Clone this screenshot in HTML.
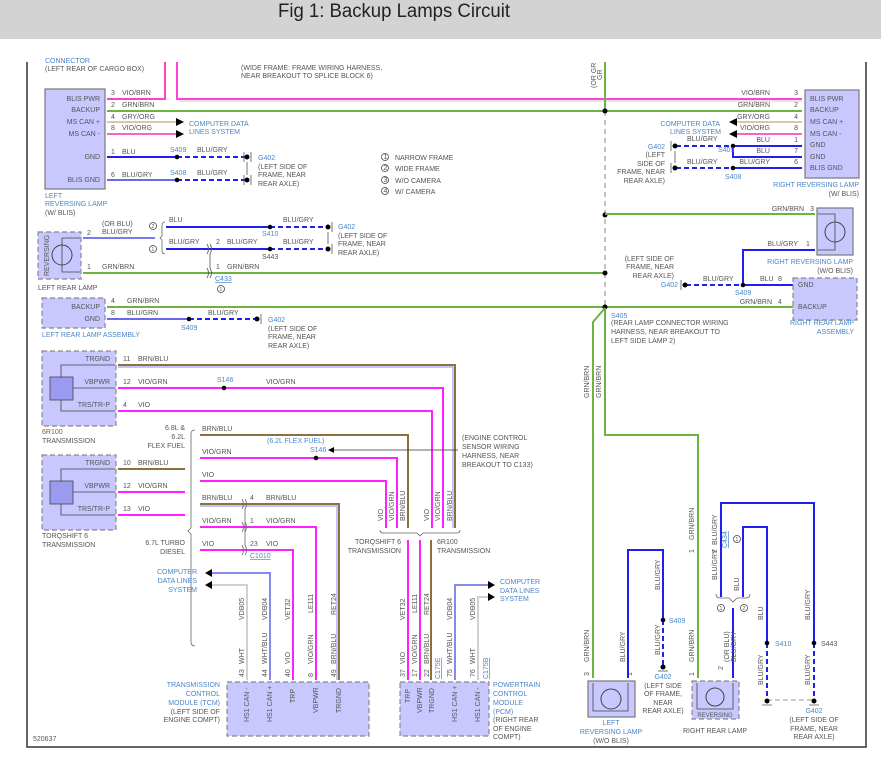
<!DOCTYPE html>
<html><head><meta charset="utf-8"><style>
html,body{margin:0;padding:0;background:#fff;width:881px;height:758px;overflow:hidden}
svg{display:block}
text{font-family:"Liberation Sans",sans-serif;font-size:7px;fill:#555}
.b{fill:#4a86c8}
.w{fill:none;stroke-width:2}
.d{stroke-dasharray:5,3}
</style></head><body>
<svg width="881" height="758" viewBox="0 0 881 758" xmlns="http://www.w3.org/2000/svg">
<rect x="0" y="0" width="881" height="39" fill="#d3d3d3"/>
<text x="278" y="17" style="font-size:19px;fill:#222" textLength="232" lengthAdjust="spacingAndGlyphs">Fig 1: Backup Lamps Circuit</text>
<path d="M27,62 V747 H866 V62" fill="none" stroke="#333" stroke-width="1.5"/>

<text x="45" y="71">(LEFT REAR OF CARGO BOX)</text>
<text x="45" y="63" class="b">CONNECTOR</text>
<text x="241" y="70">(WIDE FRAME: FRAME WIRING HARNESS,</text>
<text x="241" y="78">NEAR BREAKOUT TO SPLICE BLOCK 6)</text>
<text transform="translate(596,88) rotate(-90)">(OR GR</text>
<text transform="translate(602,80) rotate(-90)">GR</text>

<rect x="45" y="89" width="60" height="100" fill="#c8c8ff" stroke="#777" stroke-width="1.2"/>
<g text-anchor="end"><text x="100" y="101">BLIS PWR</text><text x="100" y="112">BACKUP</text><text x="100" y="124">MS CAN +</text><text x="100" y="136">MS CAN -</text><text x="100" y="159">GND</text><text x="100" y="182">BLIS GND</text></g>
<text x="45" y="198" class="b">LEFT</text><text x="45" y="206" class="b">REVERSING LAMP</text><text x="45" y="215">(W/ BLIS)</text>

<path class="w" d="M107,99 H165 V62" stroke="#ff40c0"/>
<path class="w" d="M177,62 V99 H802" stroke="#ff40e0"/>
<path d="M179,101 H802" stroke="#d8c8a8" stroke-width="1"/>
<text x="111" y="95">3</text><text x="122" y="95">VIO/BRN</text>
<path class="w" d="M107,111 H802" stroke="#6db33f"/>
<text x="111" y="107">2</text><text x="122" y="107">GRN/BRN</text>
<path d="M107,122 H176" stroke="#d8c8a8" stroke-width="2"/>
<path d="M107,134 H176" stroke="#ff60c8" stroke-width="2"/>
<path d="M176,118 L184,122 L176,126Z M176,130 L184,134 L176,138Z" fill="#000"/>
<text x="111" y="119">4</text><text x="122" y="119">GRY/ORG</text>
<text x="111" y="130">8</text><text x="122" y="130">VIO/ORG</text>
<text x="189" y="126" class="b">COMPUTER DATA</text><text x="189" y="134" class="b">LINES SYSTEM</text>
<path class="w" d="M107,157 H177" stroke="#2020ee"/>
<path class="w d" d="M177,157 H246" stroke="#2020ee"/>
<path class="w" d="M107,180 H177" stroke="#6a6ae8"/>
<path class="w d" d="M177,180 H246" stroke="#2020ee"/>
<circle cx="177" cy="157" r="2.3" fill="#000"/><circle cx="177" cy="180" r="2.3" fill="#000"/>
<g fill="#000"><circle cx="247" cy="157" r="2.5"/><circle cx="247" cy="180" r="2.5"/></g>
<path d="M251,152 V162 M244,152 V162 M251,175 V185 M244,175 V185 M247,162 V175" stroke="#555" stroke-width="0.8"/>
<text x="111" y="154">1</text><text x="122" y="154">BLU</text>
<text x="111" y="177">6</text><text x="122" y="177">BLU/GRY</text>
<text x="170" y="152" class="b">S409</text><text x="197" y="152">BLU/GRY</text>
<text x="170" y="175" class="b">S408</text><text x="197" y="175">BLU/GRY</text>
<text x="258" y="160" class="b">G402</text><text x="258" y="169">(LEFT SIDE OF</text><text x="258" y="177">FRAME, NEAR</text><text x="258" y="186">REAR AXLE)</text>

<g fill="none" stroke="#444" stroke-width="0.8"><circle cx="385" cy="157" r="3.5"/><circle cx="385" cy="168" r="3.5"/><circle cx="385" cy="180" r="3.5"/><circle cx="385" cy="191" r="3.5"/></g>
<g style="font-size:5px"><text x="383.5" y="159">1</text><text x="383.5" y="170">2</text><text x="383.5" y="182">3</text><text x="383.5" y="193">4</text></g>
<text x="395" y="160">NARROW FRAME</text><text x="395" y="171">WIDE FRAME</text><text x="395" y="183">W/O CAMERA</text><text x="395" y="194">W/ CAMERA</text>

<rect x="38" y="232" width="43" height="47" fill="#c8c8ff" stroke="#888" stroke-width="1.2" stroke-dasharray="5,3"/>
<text transform="translate(49,276) rotate(-90)">REVERSING</text>
<circle cx="62" cy="255" r="10" fill="none" stroke="#444" stroke-width="1"/>
<path d="M62,238 H80 M62,238 V272 H80" fill="none" stroke="#444" stroke-width="0.8"/>
<text x="38" y="290">LEFT REAR LAMP</text>
<path class="w" d="M83,238 H155" stroke="#7a7af0"/>
<text x="87" y="235">2</text><text x="102" y="226">(OR BLU)</text><text x="102" y="234">BLU/GRY</text>
<path d="M165,222 q-3,0 -3,4 v10 l-2,2 l2,2 v10 q0,4 3,4" fill="none" stroke="#666" stroke-width="0.8"/>
<circle cx="153" cy="226" r="3.5" fill="none" stroke="#444" stroke-width="0.8"/><text x="151.5" y="228" style="font-size:5px">2</text>
<circle cx="153" cy="249" r="3.5" fill="none" stroke="#444" stroke-width="0.8"/><text x="151.5" y="251" style="font-size:5px">1</text>
<path class="w" d="M166,227 H270" stroke="#2020ee"/><path class="w d" d="M270,227 H327" stroke="#2020ee"/>
<path class="w" d="M166,249 H270" stroke="#2020ee"/><path class="w d" d="M270,249 H327" stroke="#2020ee"/>
<circle cx="270" cy="227" r="2.3" fill="#000"/><circle cx="270" cy="249" r="2.3" fill="#000"/>
<circle cx="328" cy="227" r="2.5" fill="#000"/><circle cx="328" cy="249" r="2.5" fill="#000"/>
<path d="M332,222 V232 M332,244 V254 M328,232 V244" stroke="#555" stroke-width="0.8"/>
<text x="169" y="222">BLU</text><text x="283" y="222">BLU/GRY</text><text x="262" y="236" class="b">S410</text>
<text x="169" y="244">BLU/GRY</text><text x="216" y="244">2</text><text x="227" y="244">BLU/GRY</text><text x="283" y="244">BLU/GRY</text><text x="262" y="259">S443</text>
<text x="338" y="229" class="b">G402</text><text x="338" y="238">(LEFT SIDE OF</text><text x="338" y="246">FRAME, NEAR</text><text x="338" y="255">REAR AXLE)</text>
<path class="w" d="M83,273 H605" stroke="#6db33f"/>
<text x="87" y="269">1</text><text x="102" y="269">GRN/BRN</text><text x="216" y="269">1</text><text x="227" y="269">GRN/BRN</text>
<path d="M207,244 q3,5 0,10 M210,244 q3,5 0,10 M207,268 q3,5 0,10 M210,268 q3,5 0,10 M210,254 V268" fill="none" stroke="#555" stroke-width="0.8"/>
<text x="215" y="281" class="b" text-decoration="underline">C433</text>
<circle cx="221" cy="289" r="3.5" fill="none" stroke="#444" stroke-width="0.8"/><text x="219.5" y="291" style="font-size:5px">1</text>

<rect x="42" y="298" width="63" height="30" fill="#c8c8ff" stroke="#888" stroke-width="1.2" stroke-dasharray="5,3"/>
<text x="100" y="309" text-anchor="end">BACKUP</text><text x="100" y="321" text-anchor="end">GND</text>
<text x="42" y="337" class="b">LEFT REAR LAMP ASSEMBLY</text>
<path class="w" d="M107,307 H793" stroke="#6db33f"/>
<text x="111" y="303">4</text><text x="127" y="303">GRN/BRN</text>
<path class="w" d="M107,319 H189" stroke="#6a6ae8"/><path class="w d" d="M189,319 H256" stroke="#2020ee"/>
<circle cx="189" cy="319" r="2.3" fill="#000"/><circle cx="257" cy="319" r="2.5" fill="#000"/>
<path d="M261,314 V324" stroke="#555" stroke-width="0.8"/>
<text x="111" y="315">8</text><text x="127" y="315">BLU/GRN</text><text x="208" y="315">BLU/GRY</text><text x="181" y="330" class="b">S409</text>
<text x="268" y="322" class="b">G402</text><text x="268" y="331">(LEFT SIDE OF</text><text x="268" y="339">FRAME, NEAR</text><text x="268" y="348">REAR AXLE)</text>

<path class="w" d="M605,62 V111" stroke="#6db33f"/>
<path d="M605,111 V307" stroke="#888" stroke-width="1" stroke-dasharray="5,4"/>
<g fill="#000"><circle cx="605" cy="111" r="2.5"/><circle cx="605" cy="215" r="2.5"/><circle cx="605" cy="273" r="2.5"/><circle cx="605" cy="307" r="2.5"/></g>

<rect x="805" y="90" width="54" height="88" fill="#c8c8ff" stroke="#777" stroke-width="1.2"/>
<text x="810" y="101">BLIS PWR</text><text x="810" y="112">BACKUP</text><text x="810" y="124">MS CAN +</text><text x="810" y="136">MS CAN -</text><text x="810" y="147">GND</text><text x="810" y="159">GND</text><text x="810" y="170">BLIS GND</text>
<g text-anchor="end"><text x="770" y="95">VIO/BRN</text><text x="770" y="107">GRN/BRN</text><text x="770" y="119">GRY/ORG</text><text x="770" y="130">VIO/ORG</text><text x="770" y="142">BLU</text><text x="770" y="153">BLU</text><text x="770" y="164">BLU/GRY</text>
<text x="798" y="95">3</text><text x="798" y="107">2</text><text x="798" y="119">4</text><text x="798" y="130">8</text><text x="798" y="142">1</text><text x="798" y="153">7</text><text x="798" y="164">6</text></g>
<path d="M736,122 H802" stroke="#d8c8a8" stroke-width="2"/>
<path d="M736,134 H802" stroke="#ff60c8" stroke-width="2"/>
<path d="M737,118 L729,122 L737,126Z M737,130 L729,134 L737,138Z" fill="#000"/>
<text x="720" y="126" class="b" text-anchor="end">COMPUTER DATA</text><text x="721" y="134" class="b" text-anchor="end">LINES SYSTEM</text>
<path class="w" d="M733,146 H802 M733,146 V157 H802 M733,168 H802" stroke="#2020ee"/>
<path class="w d" d="M676,146 H733 M676,168 H733" stroke="#2020ee"/>
<g fill="#000"><circle cx="733" cy="146" r="2.3"/><circle cx="733" cy="168" r="2.3"/><circle cx="675" cy="146" r="2.5"/><circle cx="675" cy="168" r="2.5"/></g>
<path d="M671,141 V151 M671,163 V173 M675,151 V163" stroke="#555" stroke-width="0.8"/>
<text x="687" y="141">BLU/GRY</text><text x="687" y="164">BLU/GRY</text>
<text x="718" y="152" class="b">S409</text><text x="725" y="179" class="b">S408</text>
<g text-anchor="end"><text x="665" y="149" class="b">G402</text><text x="665" y="157">(LEFT</text><text x="665" y="166">SIDE OF</text><text x="665" y="174">FRAME, NEAR</text><text x="665" y="183">REAR AXLE)</text></g>
<text x="859" y="187" class="b" text-anchor="end">RIGHT REVERSING LAMP</text><text x="859" y="196" text-anchor="end">(W/ BLIS)</text>

<path class="w" d="M605,214 H815" stroke="#6db33f"/>
<text x="804" y="211" text-anchor="end">GRN/BRN</text><text x="810" y="211">3</text>
<rect x="817" y="208" width="36" height="47" fill="#c8c8ff" stroke="#777" stroke-width="1.2"/>
<circle cx="835" cy="232" r="10" fill="none" stroke="#444" stroke-width="1"/>
<path d="M818,214 H835 V250 H818" fill="none" stroke="#444" stroke-width="0.8"/>
<path class="w" d="M743,285 V250 H815" stroke="#2020ee"/>
<text x="798" y="246" text-anchor="end">BLU/GRY</text><text x="806" y="246">1</text>
<text x="853" y="264" class="b" text-anchor="end">RIGHT REVERSING LAMP</text><text x="853" y="273" text-anchor="end">(W/O BLIS)</text>
<g text-anchor="end"><text x="674" y="261">(LEFT SIDE OF</text><text x="674" y="269">FRAME, NEAR</text><text x="674" y="278">REAR AXLE)</text><text x="678" y="287" class="b">G402</text></g>
<path class="w d" d="M686,285 H743" stroke="#2020ee"/>
<path class="w" d="M743,285 H793" stroke="#2020ee"/>
<circle cx="743" cy="285" r="2.3" fill="#000"/><circle cx="685" cy="285" r="2.5" fill="#000"/>
<path d="M681,280 V290" stroke="#555" stroke-width="0.8"/>
<text x="703" y="281">BLU/GRY</text><text x="760" y="281">BLU</text><text x="778" y="281">8</text><text x="735" y="295" class="b">S409</text>
<rect x="793" y="278" width="64" height="42" fill="#c8c8ff" stroke="#888" stroke-width="1.2" stroke-dasharray="5,3"/>
<text x="798" y="287">GND</text><text x="798" y="309">BACKUP</text>
<text x="772" y="304" text-anchor="end">GRN/BRN</text><text x="778" y="304">4</text>
<text x="854" y="325" class="b" text-anchor="end">RIGHT REAR LAMP</text><text x="854" y="334" class="b" text-anchor="end">ASSEMBLY</text>
<text x="611" y="318" class="b">S405</text><text x="611" y="325">(REAR LAMP CONNECTOR WIRING</text><text x="611" y="334">HARNESS, NEAR BREAKOUT TO</text><text x="611" y="343">LEFT SIDE LAMP 2)</text>

<path class="w" d="M605,308 L593,322 V678" stroke="#6db33f"/>
<path class="w" d="M605,308 V435 H698 V678" stroke="#6db33f"/>
<text transform="translate(589,398) rotate(-90)">GRN/BRN</text>
<text transform="translate(601,398) rotate(-90)">GRN/BRN</text>
<text transform="translate(589,662) rotate(-90)">GRN/BRN</text>
<text transform="translate(694,540) rotate(-90)">GRN/BRN</text>
<text transform="translate(694,662) rotate(-90)">GRN/BRN</text>
<text transform="translate(589,676) rotate(-90)">3</text><text transform="translate(694,676) rotate(-90)">1</text><text transform="translate(694,553) rotate(-90)">1</text>
<text transform="translate(723,670) rotate(-90)">2</text><text transform="translate(632,676) rotate(-90)">1</text>
<rect x="588" y="681" width="47" height="36" fill="#c8c8ff" stroke="#777" stroke-width="1.2"/>
<circle cx="611" cy="699" r="10" fill="none" stroke="#444" stroke-width="1"/>
<path d="M593,683 V711 H628 V683" fill="none" stroke="#444" stroke-width="0.8"/>
<text x="611" y="725" class="b" text-anchor="middle">LEFT</text><text x="611" y="734" class="b" text-anchor="middle">REVERSING LAMP</text><text x="611" y="743" text-anchor="middle">(W/O BLIS)</text>
<path class="w" d="M628,678 V550 H663 V620" stroke="#2020ee"/>
<path class="w d" d="M663,620 V665" stroke="#2020ee"/>
<circle cx="663" cy="620" r="2.3" fill="#000"/><circle cx="663" cy="667" r="2.5" fill="#000"/>
<path d="M658,671 H668" stroke="#555" stroke-width="0.8"/>
<text transform="translate(625,662) rotate(-90)">BLU/GRY</text>
<text transform="translate(660,590) rotate(-90)">BLU/GRY</text>
<text transform="translate(660,655) rotate(-90)">BLU/GRY</text>
<text x="669" y="623" class="b">S409</text>
<g text-anchor="middle"><text x="663" y="679" class="b">G402</text><text x="663" y="688">(LEFT SIDE</text><text x="663" y="696">OF FRAME,</text><text x="663" y="705">NEAR</text><text x="663" y="713">REAR AXLE)</text></g>
<rect x="692" y="681" width="47" height="38" fill="#c8c8ff" stroke="#888" stroke-width="1.2" stroke-dasharray="5,3"/>
<circle cx="715" cy="697" r="9" fill="none" stroke="#444" stroke-width="1"/>
<path d="M697,683 V709 H733 V683" fill="none" stroke="#444" stroke-width="0.8"/>
<text x="715" y="717" text-anchor="middle" style="font-size:6px">REVERSING</text>
<text x="715" y="733" text-anchor="middle">RIGHT REAR LAMP</text>
<path class="w" d="M733,678 V608" stroke="#2020ee"/>
<path d="M716,594 q0,4 4,4 h9 l4,4 l4,-4 h9 q4,0 4,-4" fill="none" stroke="#666" stroke-width="0.8"/>
<path class="w" d="M721,597 V503 H814 V643" stroke="#2020ee"/>
<path class="w" d="M743,597 V527 H767 V643" stroke="#2020ee"/>
<path class="w d" d="M767,643 V700 M814,643 V700" stroke="#2020ee"/>
<path d="M767,700 H814" stroke="#999" stroke-width="1" stroke-dasharray="5,3"/>
<g fill="#000"><circle cx="767" cy="643" r="2.3"/><circle cx="814" cy="643" r="2.3"/><circle cx="767" cy="701" r="2.5"/><circle cx="814" cy="701" r="2.5"/></g>
<path d="M762,705 H772 M809,705 H819" stroke="#555" stroke-width="0.8"/>
<circle cx="721" cy="608" r="3.5" fill="none" stroke="#444" stroke-width="0.8"/><text x="719.5" y="610" style="font-size:5px">1</text>
<circle cx="744" cy="608" r="3.5" fill="none" stroke="#444" stroke-width="0.8"/><text x="742.5" y="610" style="font-size:5px">2</text>
<circle cx="737" cy="539" r="3.5" fill="none" stroke="#444" stroke-width="0.8"/><text x="735.5" y="541" style="font-size:5px">1</text>
<text transform="translate(727,548) rotate(-90)" class="b" text-decoration="underline">C434</text>
<text transform="translate(717,545) rotate(-90)">BLU/GRY</text>
<text transform="translate(717,580) rotate(-90)">BLU/GRY</text>
<text transform="translate(717,553) rotate(-90)">2</text>
<text transform="translate(739,591) rotate(-90)">BLU</text>
<text transform="translate(729,662) rotate(-90)">(OR BLU)</text>
<text transform="translate(736,662) rotate(-90)">BLU/GRY</text>
<text transform="translate(763,620) rotate(-90)">BLU</text>
<text transform="translate(763,685) rotate(-90)">BLU/GRY</text>
<text transform="translate(810,620) rotate(-90)">BLU/GRY</text>
<text transform="translate(810,685) rotate(-90)">BLU/GRY</text>
<text x="775" y="646" class="b">S410</text><text x="821" y="646">S443</text>
<g text-anchor="middle"><text x="814" y="713" class="b">G402</text><text x="814" y="722">(LEFT SIDE OF</text><text x="814" y="731">FRAME, NEAR</text><text x="814" y="739">REAR AXLE)</text></g>

<rect x="42" y="351" width="74" height="75" fill="#c8c8ff" stroke="#888" stroke-width="1.2" stroke-dasharray="5,3"/>
<rect x="50" y="377" width="23" height="23" fill="#9a9af0" stroke="#444" stroke-width="0.8"/>
<path d="M61,377 V365 H115 M73,388 H115 M61,400 V411 H115" fill="none" stroke="#444" stroke-width="0.8"/>
<g text-anchor="end"><text x="110" y="361">TRGND</text><text x="110" y="384">VBPWR</text><text x="110" y="407">TRS/TR-P</text></g>
<text x="42" y="434" style="fill:#8b5a2b">6R100</text><text x="42" y="443">TRANSMISSION</text>
<path class="w" d="M118,365 H455 V528" stroke="#8b7040"/>
<path d="M118,367 H453 V528" stroke="#8888ee" stroke-width="1" fill="none"/>
<path class="w" d="M118,388 H443 V528" stroke="#ff20ff"/>
<path class="w" d="M118,411 H432 V528" stroke="#ff20ff"/>
<circle cx="224" cy="388" r="2.3" fill="#000"/>
<text x="123" y="361">11</text><text x="138" y="361">BRN/BLU</text>
<text x="123" y="384">12</text><text x="138" y="384">VIO/GRN</text><text x="217" y="382" class="b">S146</text><text x="266" y="384">VIO/GRN</text>
<text x="123" y="407">4</text><text x="138" y="407">VIO</text>
<rect x="42" y="455" width="74" height="75" fill="#c8c8ff" stroke="#888" stroke-width="1.2" stroke-dasharray="5,3"/>
<rect x="50" y="481" width="23" height="23" fill="#9a9af0" stroke="#444" stroke-width="0.8"/>
<path d="M61,481 V469 H115 M73,492 H115 M61,504 V515 H115" fill="none" stroke="#444" stroke-width="0.8"/>
<g text-anchor="end"><text x="110" y="465">TRGND</text><text x="110" y="488">VBPWR</text><text x="110" y="511">TRS/TR-P</text></g>
<text x="42" y="538">TORQSHIFT 6</text><text x="42" y="547">TRANSMISSION</text>
<path class="w" d="M118,469 H185" stroke="#8b7040"/>
<path class="w" d="M118,492 H185 M118,515 H185" stroke="#ff20ff"/>
<text x="123" y="465">10</text><text x="138" y="465">BRN/BLU</text>
<text x="123" y="488">12</text><text x="138" y="488">VIO/GRN</text>
<text x="123" y="511">13</text><text x="138" y="511">VIO</text>
<path d="M195,430 q-4,0 -4,4 v94 l-3,3 l3,3 v108 q0,4 4,4" fill="none" stroke="#666" stroke-width="0.8"/>
<g text-anchor="end"><text x="185" y="430">6.8L &amp;</text><text x="185" y="439">6.2L</text><text x="185" y="448">FLEX FUEL</text><text x="185" y="545">6.7L TURBO</text><text x="185" y="554">DIESEL</text></g>
<path class="w" d="M200,435 H408 V528" stroke="#8b7040"/>
<path class="w" d="M200,458 H397 V528" stroke="#ff20ff"/>
<path class="w" d="M200,481 H386 V528" stroke="#ff20ff"/>
<circle cx="316" cy="458" r="2.3" fill="#000"/>
<text x="202" y="431">BRN/BLU</text><text x="202" y="454">VIO/GRN</text><text x="202" y="477">VIO</text>
<text x="267" y="443" class="b">(6.2L FLEX FUEL)</text><text x="310" y="452" class="b">S146</text>
<path d="M333,450 H458" stroke="#333" stroke-width="0.8"/><path d="M328,450 L334,447 L334,453Z" fill="#000"/>
<text x="462" y="440">(ENGINE CONTROL</text><text x="462" y="449">SENSOR WIRING</text><text x="462" y="458">HARNESS, NEAR</text><text x="462" y="467">BREAKOUT TO C133)</text>
<text transform="translate(383,521) rotate(-90)">VIO</text><text transform="translate(394,521) rotate(-90)">VIO/GRN</text><text transform="translate(405,521) rotate(-90)">BRN/BLU</text>
<text transform="translate(429,521) rotate(-90)">VIO</text><text transform="translate(440,521) rotate(-90)">VIO/GRN</text><text transform="translate(452,521) rotate(-90)">BRN/BLU</text>
<path d="M380,530 q0,3 3,3 h34 l3,3 l3,-3 h34 q3,0 3,-3" fill="none" stroke="#666" stroke-width="0.8"/>
<text x="401" y="544" text-anchor="end">TORQSHIFT 6</text><text x="401" y="553" text-anchor="end">TRANSMISSION</text>
<text x="437" y="544">6R100</text><text x="437" y="553">TRANSMISSION</text>
<path class="w" d="M408,540 V680 M420,540 V680" stroke="#ff20ff"/>
<path class="w" d="M431,540 V680" stroke="#8b7040"/>
<path class="w" d="M200,504 H339 V680" stroke="#8b7040"/>
<path d="M200,506 H337 V680" stroke="#8888ee" stroke-width="1" fill="none"/>
<path class="w" d="M200,527 H316 V680" stroke="#ff20ff"/>
<path class="w" d="M200,550 H293 V680" stroke="#ff20ff"/>
<path d="M242,499 q3,5 0,10 M245,499 q3,5 0,10 M242,522 q3,5 0,10 M245,522 q3,5 0,10 M242,545 q3,5 0,10 M245,545 q3,5 0,10 M245,509 V545" fill="none" stroke="#666" stroke-width="0.8"/>
<text x="202" y="500">BRN/BLU</text><text x="250" y="500">4</text><text x="266" y="500">BRN/BLU</text>
<text x="202" y="523">VIO/GRN</text><text x="250" y="523">1</text><text x="266" y="523">VIO/GRN</text>
<text x="202" y="546">VIO</text><text x="250" y="546">23</text><text x="266" y="546">VIO</text>
<text x="250" y="558" class="b" text-decoration="underline">C1010</text>
<path d="M270,680 V573 H212" stroke="#8888ee" stroke-width="2" fill="none"/>
<path d="M247,680 V585 H212" stroke="#d0d0d0" stroke-width="2" fill="none"/>
<path d="M212,569 L205,573 L212,577Z M212,581 L205,585 L212,589Z" fill="#000"/>
<g text-anchor="end"><text x="197" y="574" class="b">COMPUTER</text><text x="197" y="583" class="b">DATA LINES</text><text x="197" y="592" class="b">SYSTEM</text></g>
<rect x="227" y="682" width="142" height="54" fill="#c8c8ff" stroke="#888" stroke-width="1.2" stroke-dasharray="5,3"/>
<g text-anchor="end"><text x="220" y="687" class="b">TRANSMISSION</text><text x="220" y="696" class="b">CONTROL</text><text x="220" y="705" class="b">MODULE (TCM)</text><text x="220" y="714">(LEFT SIDE OF</text><text x="220" y="722">ENGINE COMPT)</text></g>
<g>
<text transform="translate(249,722) rotate(-90)">HS1 CAN -</text><text transform="translate(272,722) rotate(-90)">HS1 CAN +</text><text transform="translate(295,703) rotate(-90)">TRP</text><text transform="translate(318,713) rotate(-90)">VBPWR</text><text transform="translate(341,713) rotate(-90)">TRGND</text>
<text transform="translate(244,677) rotate(-90)">43</text><text transform="translate(267,677) rotate(-90)">44</text><text transform="translate(290,677) rotate(-90)">40</text><text transform="translate(313,677) rotate(-90)">8</text><text transform="translate(336,677) rotate(-90)">49</text>
<text transform="translate(244,664) rotate(-90)">WHT</text><text transform="translate(267,664) rotate(-90)">WHT/BLU</text><text transform="translate(290,664) rotate(-90)">VIO</text><text transform="translate(313,664) rotate(-90)">VIO/GRN</text><text transform="translate(336,664) rotate(-90)">BRN/BLU</text>
<text transform="translate(244,620) rotate(-90)">VDB05</text><text transform="translate(267,620) rotate(-90)">VDB04</text><text transform="translate(290,620) rotate(-90)">VET32</text><text transform="translate(313,613) rotate(-90)">LE111</text><text transform="translate(336,615) rotate(-90)">RET24</text>
</g>
<path d="M455,680 V585 H488" stroke="#8888ee" stroke-width="2" fill="none"/>
<path d="M478,680 V597 H488" stroke="#d0d0d0" stroke-width="2" fill="none"/>
<path d="M488,581 L495,585 L488,589Z M488,593 L495,597 L488,601Z" fill="#000"/>
<text x="500" y="584" class="b">COMPUTER</text><text x="500" y="593" class="b">DATA LINES</text><text x="500" y="601" class="b">SYSTEM</text>
<rect x="400" y="682" width="89" height="54" fill="#c8c8ff" stroke="#888" stroke-width="1.2" stroke-dasharray="5,3"/>
<g><text x="493" y="687" class="b">POWERTRAIN</text><text x="493" y="696" class="b">CONTROL</text><text x="493" y="705" class="b">MODULE</text><text x="493" y="714" class="b">(PCM)</text><text x="493" y="722">(RIGHT REAR</text><text x="493" y="731">OF ENGINE</text><text x="493" y="739">COMPT)</text></g>
<text transform="translate(410,703) rotate(-90)">TRP</text><text transform="translate(422,713) rotate(-90)">VBPWR</text><text transform="translate(434,713) rotate(-90)">TRGND</text><text transform="translate(457,722) rotate(-90)">HS1 CAN +</text><text transform="translate(480,722) rotate(-90)">HS1 CAN -</text>
<text transform="translate(405,677) rotate(-90)">37</text><text transform="translate(417,677) rotate(-90)">17</text><text transform="translate(429,677) rotate(-90)">22</text><text transform="translate(452,677) rotate(-90)">75</text><text transform="translate(475,677) rotate(-90)">76</text>
<text transform="translate(405,664) rotate(-90)">VIO</text><text transform="translate(417,664) rotate(-90)">VIO/GRN</text><text transform="translate(429,664) rotate(-90)">BRN/BLU</text><text transform="translate(452,664) rotate(-90)">WHT/BLU</text><text transform="translate(475,664) rotate(-90)">WHT</text>
<text transform="translate(440,679) rotate(-90)" class="b" text-decoration="underline">C175E</text><text transform="translate(488,679) rotate(-90)" class="b" text-decoration="underline">C175B</text>
<text transform="translate(405,620) rotate(-90)">VET32</text><text transform="translate(417,613) rotate(-90)">LE111</text><text transform="translate(429,615) rotate(-90)">RET24</text><text transform="translate(452,620) rotate(-90)">VDB04</text><text transform="translate(475,620) rotate(-90)">VDB05</text>
<text x="33" y="741">520637</text>
</svg>
</body></html>
